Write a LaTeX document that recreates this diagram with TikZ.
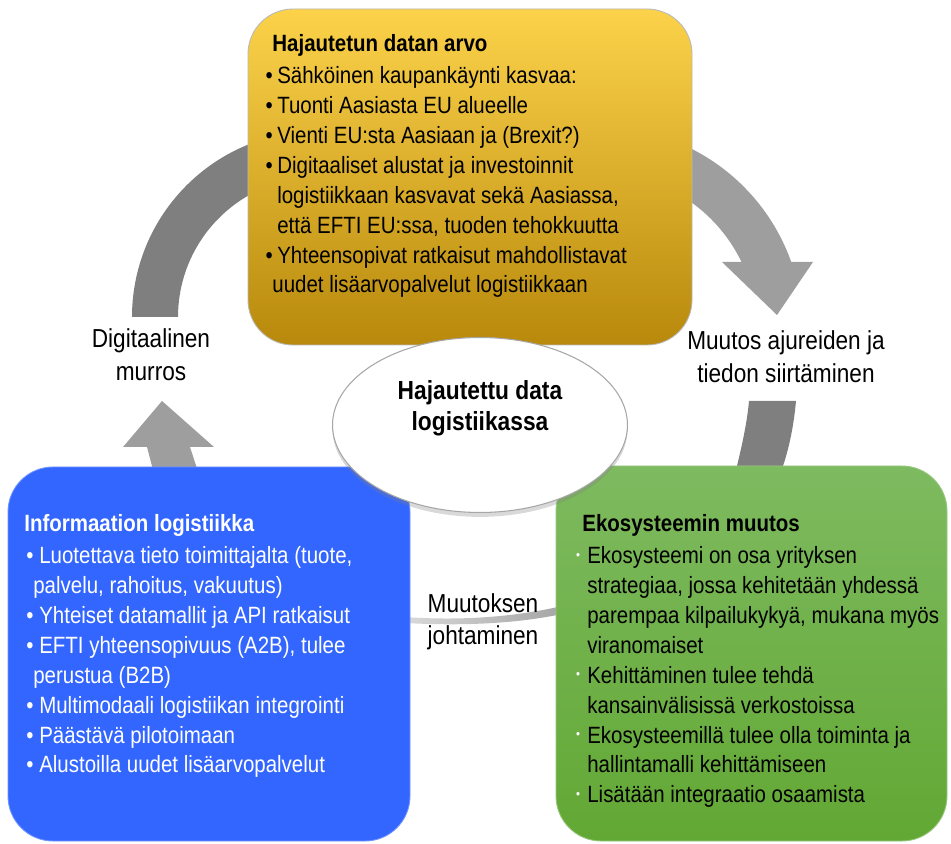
\documentclass[tikz,border=0pt]{standalone}
\usepackage{fontspec}
\setmainfont{Liberation Sans}[FakeStretch=0.87]
\usepackage{graphicx}
\usetikzlibrary{shapes.geometric,shadows}

\definecolor{goldtop}{RGB}{252,210,74}
\definecolor{goldbot}{RGB}{184,137,12}
\definecolor{infoblue}{RGB}{51,102,255}
\definecolor{greentop}{RGB}{126,186,96}
\definecolor{greenbot}{RGB}{98,168,52}
\definecolor{banddark}{RGB}{127,127,127}
\definecolor{bandlight}{RGB}{158,158,158}
\definecolor{boxline}{RGB}{185,185,185}

% bullets: a plain one and a small one for the green panel
\newcommand\itembul{\makebox[5.1pt][l]{\hspace*{-1.6pt}•}}
\newcommand\itembulB{\makebox[5.7pt][l]{\hspace*{-1.6pt}•}}
\newcommand\smallbul{\makebox[5.1pt][l]{\hspace*{-1.2pt}\raisebox{0.35ex}{\scalebox{0.55}{\textcolor{white}{•}}}}}

\tikzset{
  panel/.style={rounded corners=0.9cm, draw=boxline, line width=0.5pt},
  paneltext/.style={anchor=base west, inner sep=0pt, font=\fontsize{13.4}{17}\selectfont},
  cyclelabel/.style={anchor=base, inner sep=0pt, font=\fontsize{14.8}{18.5}\selectfont},
}

\begin{document}
\begin{tikzpicture}[x=0.02cm, y=0.02cm]
\useasboundingbox (0,0) rectangle (951,843);

% ---- cycle arrows (behind the panels) ----
% upper left band, ends flat above the label
\fill[banddark] (132,526) arc[start angle=180, end angle=100, radius=3.72cm]
  -- ({318+140*cos(100)},{526+140*sin(100)})
  arc[start angle=100, end angle=180, radius=2.8cm] -- cycle;
% lower left arrow pointing up
\fill[bandlight] (147,396) -- (123,396) -- (162,442) -- (214,396) -- (190,396)
  -- (205,350) -- (159,350) -- cycle;
% upper right curved arrow with head
\fill[bandlight] ({600+203*cos(70)},{513+203*sin(70)})
  arc[start angle=70, end angle=19.6, radius=4.06cm]
  -- (813,581) -- (777,528) -- (722,581)
  -- ({600+157*cos(25.7)},{513+157*sin(25.7)})
  arc[start angle=25.7, end angle=70, radius=3.14cm] -- cycle;
% lower right stub
\fill[banddark] (749,442) -- (796,442)
  .. controls (794,420) and (790,398) .. (783,377) -- (775,350) -- (727,350)
  -- (737,377) .. controls (742,398) and (747,420) .. (749,442) -- cycle;
% thin arc between the lower panels
\shade[left color=gray!30, right color=gray!70]
  (405,226) .. controls (460,222) and (515,226) .. (562,237)
  -- (562,229) .. controls (515,219) and (460,217) .. (405,220) -- cycle;

% ---- panels ----
\path[panel, top color=goldtop, bottom color=goldbot] (248,498) rectangle (692,834);
\path[panel, fill=infoblue, draw=infoblue!70!white] (8,2) rectangle (410,376);
\path[panel, top color=greentop, bottom color=greenbot, draw=greentop!80!white] (556,2) rectangle (947,377);

% ---- hub ellipse ----
\node[ellipse, draw=gray!70, line width=0.6pt, fill=white, minimum width=5.9cm, minimum height=3.5cm,
      drop shadow={shadow xshift=0pt, shadow yshift=-2.5pt, opacity=0.3}] (hub) at (480,418) {};
\node[anchor=base, inner sep=0pt, font=\bfseries\fontsize{14.9}{17.5}\selectfont] (hubtext) at (480,443)
  {\begin{tabular}[t]{@{}c@{}}Hajautettu data\\logistiikassa\end{tabular}};

% ---- panel texts ----
\node[paneltext] (valuetext) at (268,791) {\begin{tabular}[t]{@{}l@{}}
\hspace*{2.3pt}\textbf{Hajautetun datan arvo}\\[1.1pt]
\itembul Sähköinen kaupankäynti kasvaa:\\
\itembul Tuonti Aasiasta EU alueelle\\
\itembul Vienti EU:sta Aasiaan ja (Brexit?)\\
\itembul Digitaaliset alustat ja investoinnit\\
\hspace*{5.1pt}logistiikkaan kasvavat sekä Aasiassa,\\
\hspace*{5.1pt}että EFTI EU:ssa, tuoden tehokkuutta\\
\itembul Yhteensopivat ratkaisut mahdollistavat\\
\hspace*{2.3pt}uudet lisäarvopalvelut logistiikkaan
\end{tabular}};

\node[paneltext, text=white] (infotext) at (24,311) {\begin{tabular}[t]{@{}l@{}}
\textbf{Informaation logistiikka}\\[1.1pt]
\hspace*{2.8pt}\itembulB Luotettava tieto toimittajalta (tuote,\\
\hspace*{5.1pt}palvelu, rahoitus, vakuutus)\\
\hspace*{2.8pt}\itembulB Yhteiset datamallit ja API ratkaisut\\
\hspace*{2.8pt}\itembulB EFTI yhteensopivuus (A2B), tulee\\
\hspace*{5.1pt}perustua (B2B)\\
\hspace*{2.8pt}\itembulB Multimodaali logistiikan integrointi\\
\hspace*{2.8pt}\itembulB Päästävä pilotoimaan\\
\hspace*{2.8pt}\itembulB Alustoilla uudet lisäarvopalvelut
\end{tabular}};

\node[paneltext] (ecotext) at (578,311) {\begin{tabular}[t]{@{}l@{}}
\hspace*{2.3pt}\textbf{Ekosysteemin muutos}\\[1.1pt]
\smallbul Ekosysteemi on osa yrityksen\\
\hspace*{5.1pt}strategiaa, jossa kehitetään yhdessä\\
\hspace*{5.1pt}parempaa kilpailukykyä, mukana myös\\
\hspace*{5.1pt}viranomaiset\\
\smallbul Kehittäminen tulee tehdä\\
\hspace*{5.1pt}kansainvälisissä verkostoissa\\
\smallbul Ekosysteemillä tulee olla toiminta ja\\
\hspace*{5.1pt}hallintamalli kehittämiseen\\
\smallbul Lisätään integraatio osaamista
\end{tabular}};

% ---- labels on the cycle ----
\node[cyclelabel] (digilabel) at (151,495)
  {\begin{tabular}[t]{@{}c@{}}Digitaalinen\\murros\end{tabular}};
\node[cyclelabel] (drivelabel) at (786,493)
  {\begin{tabular}[t]{@{}c@{}}Muutos ajureiden ja\\tiedon siirtäminen\end{tabular}};
\node[cyclelabel] (leadlabel) at (483,231)
  {\begin{tabular}[t]{@{}c@{}}Muutoksen\\johtaminen\end{tabular}};
\end{tikzpicture}
\end{document}
